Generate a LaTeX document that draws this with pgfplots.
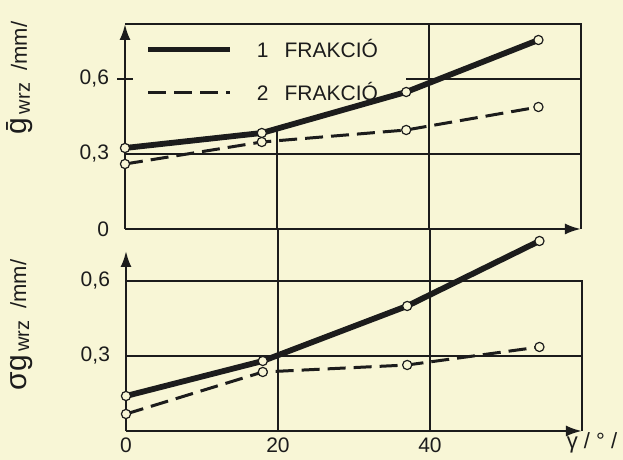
\documentclass[border=0pt]{standalone}
\usepackage{pgfplots}
\pgfplotsset{compat=1.18}
\usepackage{fontspec}
\setmainfont{Liberation Sans}
\usetikzlibrary{arrows.meta}
\definecolor{bg}{RGB}{248,246,214}
\definecolor{ink}{RGB}{28,28,28}

\tikzset{grd/.style={ink, line width=0.7pt}}
\pgfplotsset{
  panel/.style={
    scale only axis, width=228pt, xmin=0, xmax=60, ymin=0,
    axis x line=bottom, axis y line=left,
    axis line style={ink, line width=1.2pt, -{Latex[length=8pt,width=5.5pt]}},
    clip=false,
    major tick length=0pt,
    tick style={draw=none},
    ticklabel style={font=\fontsize{10.5}{12}\selectfont, text=ink},
    yticklabel style={xshift=-4.5pt},
    /pgf/number format/fixed,
    /pgf/number format/precision=1,
    /pgf/number format/use comma,
    /pgf/number format/assume math mode=true,
    label style={text=ink},
  },
  s1/.style={ink, line width=2.9pt, mark=*, mark size=2.3pt,
    mark options={solid, fill=bg, draw=ink, line width=0.6pt}},
  s2/.style={ink, line width=1.5pt, dash pattern=on 9pt off 4pt, mark=*, mark size=2.3pt,
    mark options={solid, fill=bg, draw=ink, line width=0.6pt}},
}

\begin{document}
\begin{tikzpicture}
\fill[bg] (0,0) rectangle (311.5pt,230pt);

% bottom panel
\begin{axis}[panel, at={(63pt,14.5pt)}, anchor=south west,
  height=90pt, ymax=0.72,
  xtick={0,20,40}, ytick={0.3,0.6},
  xlabel={γ / ° /},
  xlabel style={at={(axis description cs:1.022,-0.067)}, anchor=center,
    font=\fontsize{11}{12}\selectfont},
  ylabel={{\fontsize{15}{15}\selectfont σg}\raisebox{-1.5pt}{\fontsize{10}{10}\selectfont\,wrz}\fontsize{11}{11}\selectfont\ \ /mm/},
  ylabel style={at={(axis description cs:-0.23,0.589)}, anchor=center},
]
\draw[grd] (axis cs:0,0.3) -- (axis cs:60,0.3);
\draw[grd] (axis cs:0,0.6) -- (axis cs:60,0.6) -- (axis cs:60,0);
\draw[grd] (axis cs:20,0) -- (axis cs:20,0.808);
\draw[grd] (axis cs:40,0) -- (axis cs:40,0.808);
\addplot[s1] coordinates {(0,0.14) (18,0.28) (37,0.50) (54.4,0.76)};
\addplot[s2] coordinates {(0,0.068) (18,0.236) (37,0.264) (54.4,0.336)};
\end{axis}

% top panel
\begin{axis}[panel, at={(62.5pt,115.5pt)}, anchor=south west,
  height=102.5pt, ymax=0.82,
  xtick=\empty, ytick={0,0.3,0.6},
  ylabel={\fontsize{15}{15}\selectfont\={g}\raisebox{-1.5pt}{\fontsize{10}{10}\selectfont\,wrz}\fontsize{11}{11}\selectfont\ \ /mm/},
  ylabel style={at={(axis description cs:-0.23,0.737)}, anchor=center},
  legend image code/.code={\draw[#1] (0pt,0pt) -- (41pt,0pt);},
  legend style={at={(axis cs:2.6,0.77)}, anchor=north west, draw=none, fill=none,
    inner sep=0pt, row sep=9pt, font=\fontsize{10.5}{12}\selectfont, text=ink,
    nodes={inner sep=1pt}},
  legend cell align=left,
]
\draw[grd] (axis cs:0,0.3) -- (axis cs:60,0.3);
\draw[grd] (axis cs:37,0.6) -- (axis cs:60,0.6);
\draw[grd] (axis cs:20,0) -- (axis cs:20,0.41);
\draw[grd] (axis cs:40,0) -- (axis cs:40,0.82);
\draw[grd] (axis cs:0,0.82) -- (axis cs:60,0.82) -- (axis cs:60,0);
\draw[grd] (axis cs:-1,0.6) -- (axis cs:1,0.6);
\addplot[s1] coordinates {(0,0.324) (18,0.384) (37,0.548) (54.4,0.756)};
\addlegendentry{\hspace{11pt}1\hspace{8pt}FRAKCIÓ}
\addplot[s2] coordinates {(0,0.26) (18,0.348) (37,0.396) (54.4,0.488)};
\addlegendentry{\hspace{11pt}2\hspace{8pt}FRAKCIÓ}
\end{axis}

\pgfresetboundingbox
\useasboundingbox (0,0) rectangle (311.5pt,230pt);
\end{tikzpicture}
\end{document}
